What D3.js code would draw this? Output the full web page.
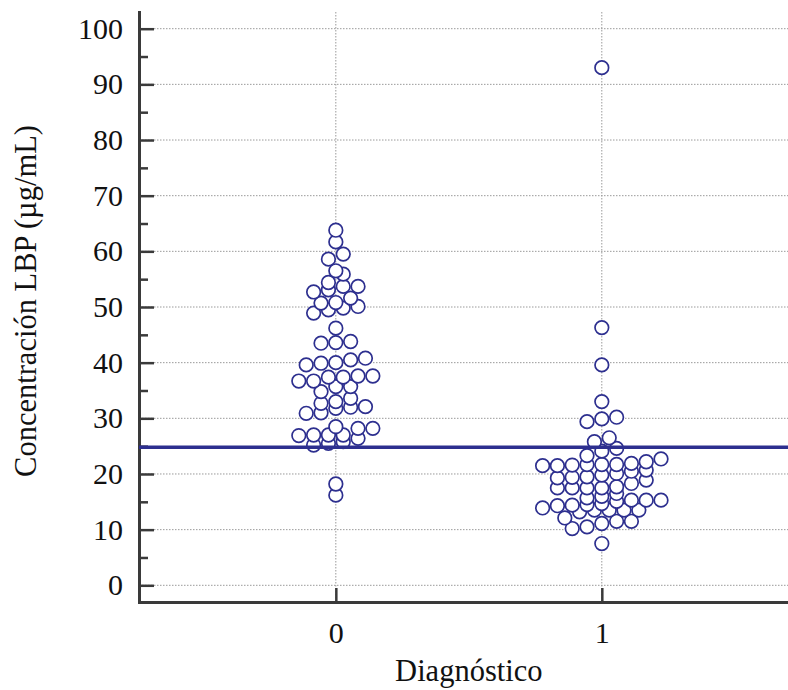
<!DOCTYPE html>
<html><head><meta charset="utf-8">
<script src="https://cdn.jsdelivr.net/npm/d3@7"></script>
<style>html,body{margin:0;padding:0;background:#fff}svg{display:block}</style>
</head><body>
<svg id="chart" width="788" height="690"></svg>
<script>
// ---- data ----
const categories = [0, 1];
const group0 = [16.2, 18.2, 25.2, 25.5, 25.8, 26.4, 26.9, 27.0, 27.0, 27.0, 28.2, 28.2, 28.5,
  30.9, 31.0, 31.8, 32.0, 32.1, 32.7, 33.0, 33.6, 34.8, 35.7, 35.7,
  36.7, 36.7, 37.4, 37.4, 37.6, 37.6, 39.6, 39.9, 40.0, 40.5, 40.8,
  43.5, 43.6, 43.8, 46.2, 48.9, 49.5, 49.8, 50.1, 50.7, 50.8, 51.6,
  52.7, 53.1, 53.7, 53.7, 54.4, 55.9, 56.5, 58.6, 59.5, 61.7, 63.8];
const group1 = [7.5, 10.2, 10.5, 11.1, 11.5, 11.5, 12.1, 13.2, 13.5, 13.5, 13.5, 13.5,
  13.9, 14.3, 14.4, 14.5, 14.7, 15.1, 15.3, 15.3, 15.3, 15.7, 16.0, 16.5,
  17.5, 17.5, 17.5, 17.5, 17.7, 18.3, 18.9, 19.3, 19.4, 19.5, 19.8, 20.1, 20.5, 20.7,
  21.5, 21.5, 21.6, 21.7, 21.7, 21.7, 21.9, 22.2, 22.7, 23.3, 24.1, 24.6,
  25.8, 26.5, 29.4, 29.9, 30.2, 33.0, 39.6, 46.3, 93.0];
const yTickValues = [0, 10, 20, 30, 40, 50, 60, 70, 80, 90, 100];
const yMinorValues = [5, 15, 25, 35, 45, 55, 65, 75, 85, 95];
const cutoff = 24.8;
const xTitle = "Diagnóstico";
const yTitle = "Concentración LBP (µg/mL)";

// ---- layout ----
const plotL = 139, plotR = 788, plotT = 12, plotB = 602;
const ink = "#2d2f8f", axisCol = "#3a3a3a";
const FONT = "'Liberation Serif', 'Times New Roman', serif";
const R = 6.8, D = 14.8;          // circle radius, horizontal slot spacing
const binW = 1.85, binAnchor = 11.8;

const svg = d3.select("#chart");
const x = d3.scaleLinear().domain([-0.74, 1.70]).range([plotL, plotR]);
const y = d3.scaleLinear().domain([-3, 103]).range([plotB, plotT]);

// grid
const grid = svg.append("g");
grid.selectAll("line.h").data(yTickValues).join("line")
  .attr("x1", plotL).attr("x2", plotR)
  .attr("y1", d => y(d)).attr("y2", d => y(d))
  .attr("stroke", "#9a9a9a").attr("stroke-width", 1).attr("stroke-dasharray", "1.5,1.5");
grid.selectAll("line.v").data(categories).join("line")
  .attr("x1", d => x(d)).attr("x2", d => x(d))
  .attr("y1", plotT).attr("y2", plotB)
  .attr("stroke", "#9a9a9a").attr("stroke-width", 1).attr("stroke-dasharray", "1.5,1.5");

// axes
const yAxis = d3.axisLeft(y).tickValues(yTickValues).tickSize(-15).tickSizeOuter(0).tickPadding(16);
const gy = svg.append("g").attr("transform", `translate(${plotL},0)`).call(yAxis);
const yMinor = d3.axisLeft(y).tickValues(yMinorValues).tickSize(-9).tickFormat("");
const gym = svg.append("g").attr("transform", `translate(${plotL},0)`).call(yMinor);
gym.select(".domain").remove();
const xAxis = d3.axisBottom(x).tickValues(categories).tickSize(-14).tickSizeOuter(0).tickFormat(d3.format("d"));
const gx = svg.append("g").attr("transform", `translate(0,${plotB})`).call(xAxis);

[gy, gym, gx].forEach(g => {
  g.selectAll(".domain").attr("stroke", axisCol).attr("stroke-width", 3).attr("stroke-linecap", "square");
  g.selectAll(".tick line").attr("stroke", axisCol).attr("stroke-width", 2.5);
  g.selectAll("text").attr("font-family", FONT).attr("font-size", 30).attr("fill", "#111");
});
gx.selectAll(".tick text").attr("y", 20).attr("dy", "0.71em");

// points (bin-based dot layout)
function layout(values, cat) {
  const bins = d3.group(values, v => Math.floor((v - binAnchor) / binW));
  const pts = [];
  for (const [, arr] of bins) {
    const s = arr.slice().sort((a, b) => a - b);
    const n = s.length;
    s.forEach((v, i) => pts.push({ v, cx: x(cat) + (i - (n - 1) / 2) * D }));
  }
  return pts;
}
const pts = [...layout(group0, categories[0]), ...layout(group1, categories[1])];
svg.append("g").selectAll("circle").data(pts).join("circle")
  .attr("cx", d => d.cx).attr("cy", d => y(d.v)).attr("r", R)
  .attr("fill", "#fff").attr("stroke", ink).attr("stroke-width", 1.7);

// cutoff line
svg.append("line").attr("x1", plotL).attr("x2", plotR)
  .attr("y1", y(cutoff)).attr("y2", y(cutoff))
  .attr("stroke", ink).attr("stroke-width", 3.5);

// titles
svg.append("text").attr("x", (x(0) + x(1)) / 2).attr("y", 681)
  .attr("text-anchor", "middle").attr("font-family", FONT).attr("font-size", 30.5).attr("fill", "#111")
  .text(xTitle);
svg.append("text").attr("transform", `translate(36,301) rotate(-90)`)
  .attr("text-anchor", "middle").attr("font-family", FONT).attr("font-size", 30.5).attr("fill", "#111")
  .text(yTitle);
</script>
</body></html>
